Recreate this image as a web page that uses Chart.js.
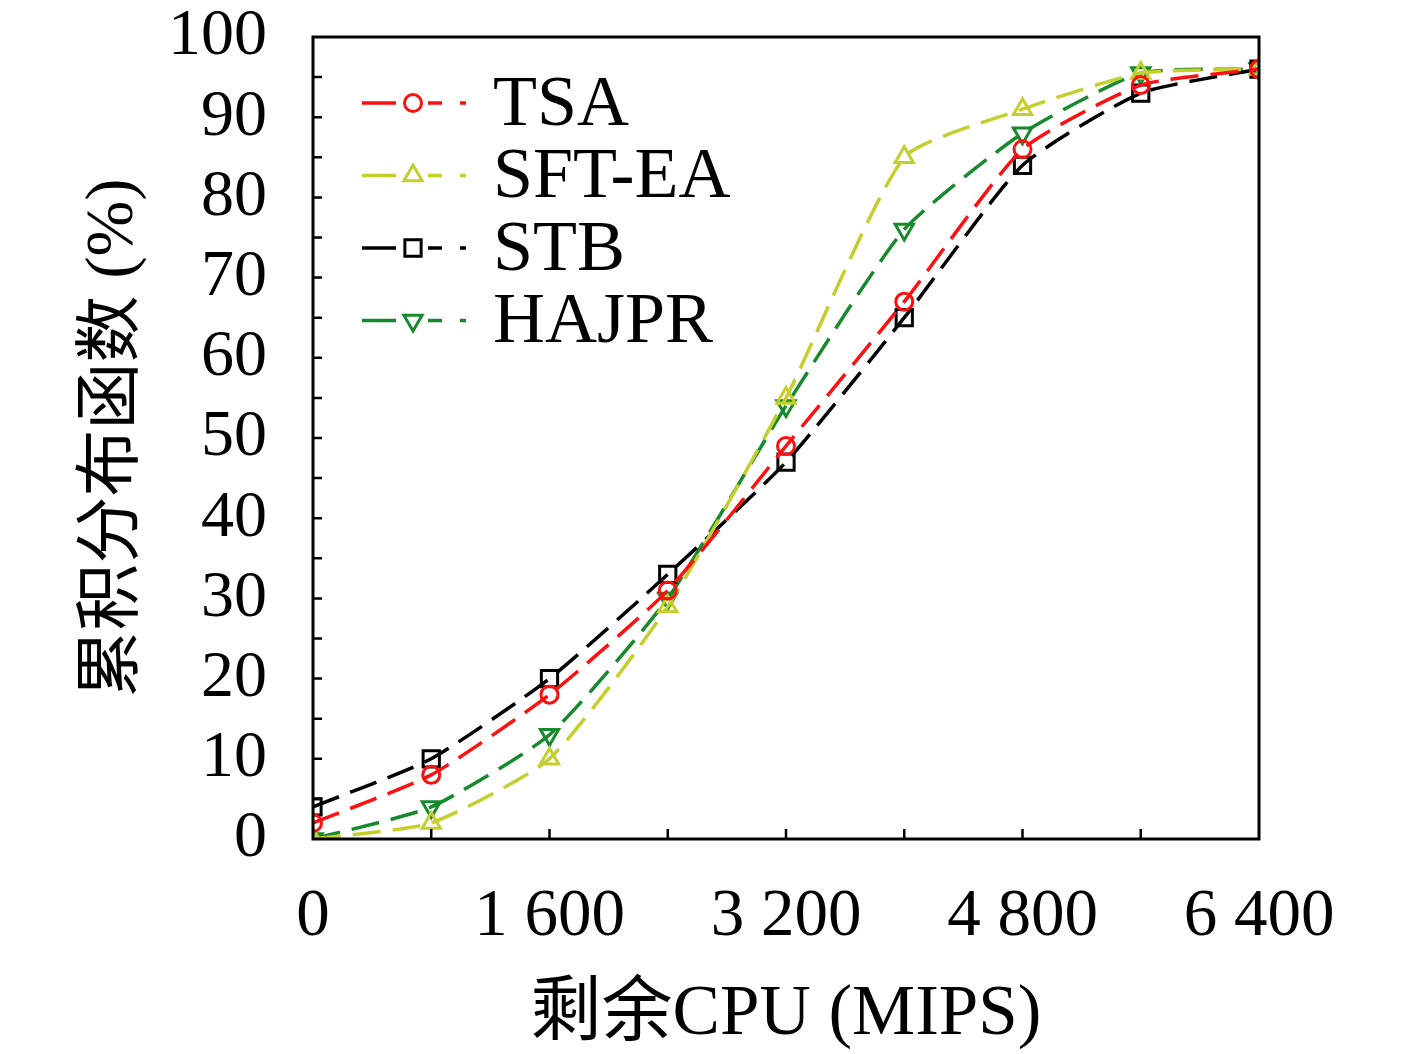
<!DOCTYPE html>
<html>
<head>
<meta charset="utf-8">
<script src="https://cdn.jsdelivr.net/npm/chart.js@4/dist/chart.umd.min.js"></script>
<style>
  html, body { margin: 0; padding: 0; background: #fff; }
  #wrap { width: 1417px; height: 1054px; }
</style>
</head>
<body>
<div id="wrap"><canvas id="c" width="1417" height="1054"></canvas></div>
<script>
// data
const xValues = [0, 800, 1600, 2400, 3200, 4000, 4800, 5600, 6400];
const tsa    = [2, 8, 18, 31, 49, 67, 86, 94, 96];
const sftEa  = [0, 2, 10, 29, 55, 85, 91, 95.5, 96];
const stb    = [4, 10, 20, 33, 47, 65, 84, 93, 96];
const hajpr  = [0, 4, 13, 30, 54, 76, 88, 95.5, 96];
const seriesNames = ["TSA", "SFT-EA", "STB", "HAJPR"];
const xLabelTicks = [0, 1600, 3200, 4800, 6400];

const serif = "'Liberation Serif', 'Noto Sans CJK SC', serif";
const colors = ["#ff1010", "#c4cf2c", "#000000", "#168a2c"];
const markers = ["circle", "triangle", "rect", "triangle"];
const rotations = [0, 0, 0, 180];
const markerSizes = [8.5, 10.5, 11.5, 10.5];

function pts(ys) {
  return ys.map((y, i) => ({ x: xValues[i], y: y }));
}
const allSeries = [tsa, sftEa, stb, hajpr];

// frame + inward ticks
const framePlugin = {
  id: "frame",
  afterDraw(chart) {
    const ctx = chart.ctx;
    const a = chart.chartArea;
    const xs = chart.scales.x, ys = chart.scales.y;
    ctx.save();
    ctx.strokeStyle = "#000";
    ctx.lineWidth = 3;
    ctx.strokeRect(a.left, a.top, a.right - a.left, a.bottom - a.top);
    ctx.lineWidth = 2.5;
    ctx.beginPath();
    for (let v = 800; v < 6400; v += 800) {
      const px = xs.getPixelForValue(v);
      ctx.moveTo(px, a.bottom);
      ctx.lineTo(px, a.bottom - 10);
    }
    for (let v = 5; v < 100; v += 5) {
      const py = ys.getPixelForValue(v);
      ctx.moveTo(a.left, py);
      ctx.lineTo(a.left + 9, py);
    }
    ctx.stroke();
    ctx.restore();
  }
};

// legend drawn inside the plot, upper left
const legendPlugin = {
  id: "innerLegend",
  afterDraw(chart) {
    const ctx = chart.ctx;
    const a = chart.chartArea;
    ctx.save();
    chart.data.datasets.forEach((ds, i) => {
      const y = a.top + 66 + i * 72.5;
      const x0 = a.left + 49;
      ctx.strokeStyle = ds.borderColor;
      ctx.lineWidth = 3.5;
      ctx.setLineDash([]);
      ctx.beginPath();
      ctx.moveTo(x0, y); ctx.lineTo(x0 + 34, y);
      ctx.moveTo(x0 + 66, y); ctx.lineTo(x0 + 80, y);
      ctx.moveTo(x0 + 98, y); ctx.lineTo(x0 + 104, y);
      ctx.stroke();
      ctx.fillStyle = "rgba(0,0,0,0)";
      ctx.lineWidth = ds.pointBorderWidth;
      Chart.helpers.drawPoint(ctx, {
        pointStyle: ds.pointStyle,
        rotation: ds.pointRotation,
        radius: ds.pointRadius,
        borderWidth: ds.pointBorderWidth
      }, x0 + 51, y);
      ctx.fillStyle = "#000";
      ctx.font = "72px " + serif;
      ctx.textBaseline = "middle";
      ctx.fillText(ds.label, a.left + 180, y + 3);
    });
    ctx.restore();
  }
};

const datasets = allSeries.map((s, i) => ({
  label: seriesNames[i],
  data: pts(s),
  borderColor: colors[i],
  backgroundColor: "rgba(0,0,0,0)",
  borderWidth: 3.5,
  borderDash: [28, 12],
  tension: 0.18,
  pointStyle: markers[i],
  pointRotation: rotations[i],
  pointRadius: markerSizes[i],
  pointBorderWidth: 3,
  pointBorderColor: colors[i],
  pointBackgroundColor: "rgba(0,0,0,0)"
}));

new Chart(document.getElementById("c"), {
  type: "line",
  data: { datasets: datasets },
  plugins: [framePlugin, legendPlugin],
  options: {
    responsive: false,
    animation: false,
    layout: { padding: { top: 37, right: 158, left: 0, bottom: 0 } },
    plugins: { legend: { display: false }, tooltip: { enabled: false } },
    scales: {
      x: {
        type: "linear",
        min: 0, max: 6400,
        afterFit(scale) {
          scale.height = 1054 - 839;
          scale.paddingLeft = 0;
          scale.paddingRight = 0;
        },
        grid: { display: false, drawTicks: false },
        border: { display: false },
        ticks: {
          stepSize: 800,
          autoSkip: false,
          maxRotation: 0,
          padding: 38,
          color: "#000",
          font: { family: serif, size: 67 },
          callback(v) {
            if (!xLabelTicks.includes(v)) return "";
            return String(v).replace(/\B(?=(\d{3})+(?!\d))/g, " ");
          }
        },
        title: {
          display: true,
          text: "剩余CPU (MIPS)",
          color: "#000",
          font: { family: serif, size: 71 },
          padding: { top: 0, bottom: -4 }
        }
      },
      y: {
        min: 0, max: 100,
        afterFit(scale) {
          scale.width = 313;
          scale.paddingTop = 0;
          scale.paddingBottom = 0;
        },
        grid: { display: false, drawTicks: false },
        border: { display: false },
        ticks: {
          stepSize: 10,
          autoSkip: false,
          padding: 46,
          color: "#000",
          font: { family: serif, size: 66 }
        },
        title: {
          display: true,
          text: "累积分布函数 (%)",
          color: "#000",
          font: { family: serif, size: 67 },
          padding: { top: 74, bottom: 0 }
        }
      }
    }
  }
});
</script>
</body>
</html>
